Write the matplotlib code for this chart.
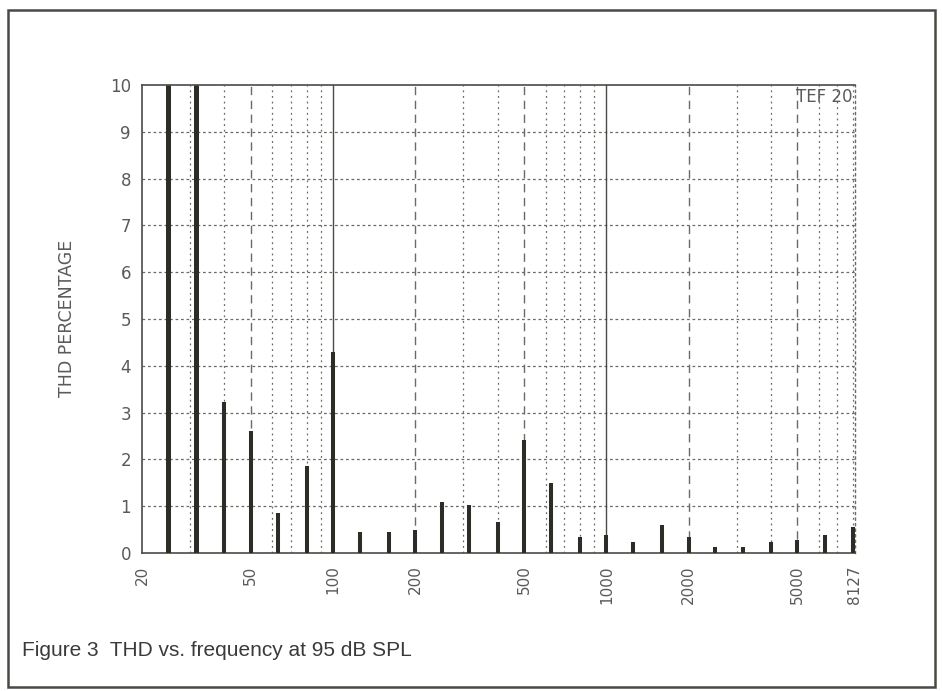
import matplotlib
matplotlib.use("Agg")
import matplotlib.pyplot as plt
from matplotlib.patches import Rectangle

# 1/3-octave centre frequencies (Hz) and THD (%)
freqs = [25, 31.5, 40, 50, 63, 80, 100, 125, 160, 200, 250, 315, 400, 500,
         630, 800, 1000, 1250, 1600, 2000, 2500, 3150, 4000, 5000, 6300, 8000]
thd = [10.0, 10.0, 3.22, 2.6, 0.86, 1.86, 4.3, 0.45, 0.45, 0.5, 1.09, 1.03, 0.67, 2.42,
       1.5, 0.35, 0.38, 0.24, 0.6, 0.35, 0.13, 0.12, 0.24, 0.28, 0.38, 0.55]

xtick_vals = [20, 50, 100, 200, 500, 1000, 2000, 5000, 8127]
xtick_labels = ["20", "50", "100", "200", "500", "1000", "2000", "5000", "8127"]
ytick_vals = list(range(0, 11))

solid_grid = [100, 1000]
dashed_grid = [50, 200, 500, 2000, 5000]
dotted_grid = [30, 40, 60, 70, 80, 90, 300, 400, 600, 700, 800, 900,
               3000, 4000, 6000, 7000, 8000]

fig = plt.figure(figsize=(9.42, 6.91), dpi=100)
ax = fig.add_axes([142/942, (691-553)/691, 713/942, 468/691])

grid_col = "#6a6a66"
for y in range(1, 10):
    ax.axhline(y, color=grid_col, lw=0.9, ls=(0, (2.2, 2.2)), zorder=1)
for x in dotted_grid:
    ax.axvline(x, color=grid_col, lw=0.9, ls=(0, (1.5, 3.0)), zorder=1)
for x in dashed_grid:
    ax.axvline(x, color=grid_col, lw=1.0, ls=(0, (6, 4)), zorder=1)
for x in solid_grid:
    ax.axvline(x, color="#4a4a46", lw=1.0, zorder=1)

bar_col = "#2b2d27"
lws = [3.6 if v >= 10 else 2.9 for v in thd]
ax.vlines(freqs, 0, thd, colors=bar_col, linewidths=lws, zorder=3)

ax.set_xscale("log")
ax.set_xlim(20, 8127)
ax.set_ylim(0, 10)
ax.set_xticks(xtick_vals)
ax.set_xticklabels(xtick_labels, rotation=90, fontsize=11, color="#5a5a5a")
ax.xaxis.set_minor_locator(matplotlib.ticker.NullLocator())
ax.set_yticks(ytick_vals)
ax.set_yticklabels([str(v) for v in ytick_vals], fontsize=12, color="#5a5a5a")
ax.tick_params(axis="both", length=0, pad=8)
ax.tick_params(axis="x", pad=9)

for s in ["left", "bottom", "top"]:
    ax.spines[s].set_color("#4a4a46")
    ax.spines[s].set_linewidth(1.2)
ax.spines["right"].set_color(grid_col)
ax.spines["right"].set_linestyle((0, (1.5, 2.5)))
ax.spines["right"].set_linewidth(1.0)

fig.text(67/942, 1 - 318/691, "THD PERCENTAGE", rotation=90, ha="center", va="center",
         fontsize=12.5, color="#5a5a5a")
ax.text(0.997, 0.993, "TEF 20", transform=ax.transAxes, ha="right", va="top",
        fontsize=12, color="#5a5a5a")

fig.text(22/942, 1 - 651/691, "Figure 3  THD vs. frequency at 95 dB SPL",
         fontsize=15, color="#3a3a3a", family="Liberation Sans", va="center", ha="left")

fig.patches.append(Rectangle((8/942, 1 - 687/691), (935-8)/942, (687-10)/691,
                             transform=fig.transFigure, fill=False,
                             edgecolor="#4a4a44", lw=1.8))

fig.savefig("out.png", dpi=100, facecolor="white")
